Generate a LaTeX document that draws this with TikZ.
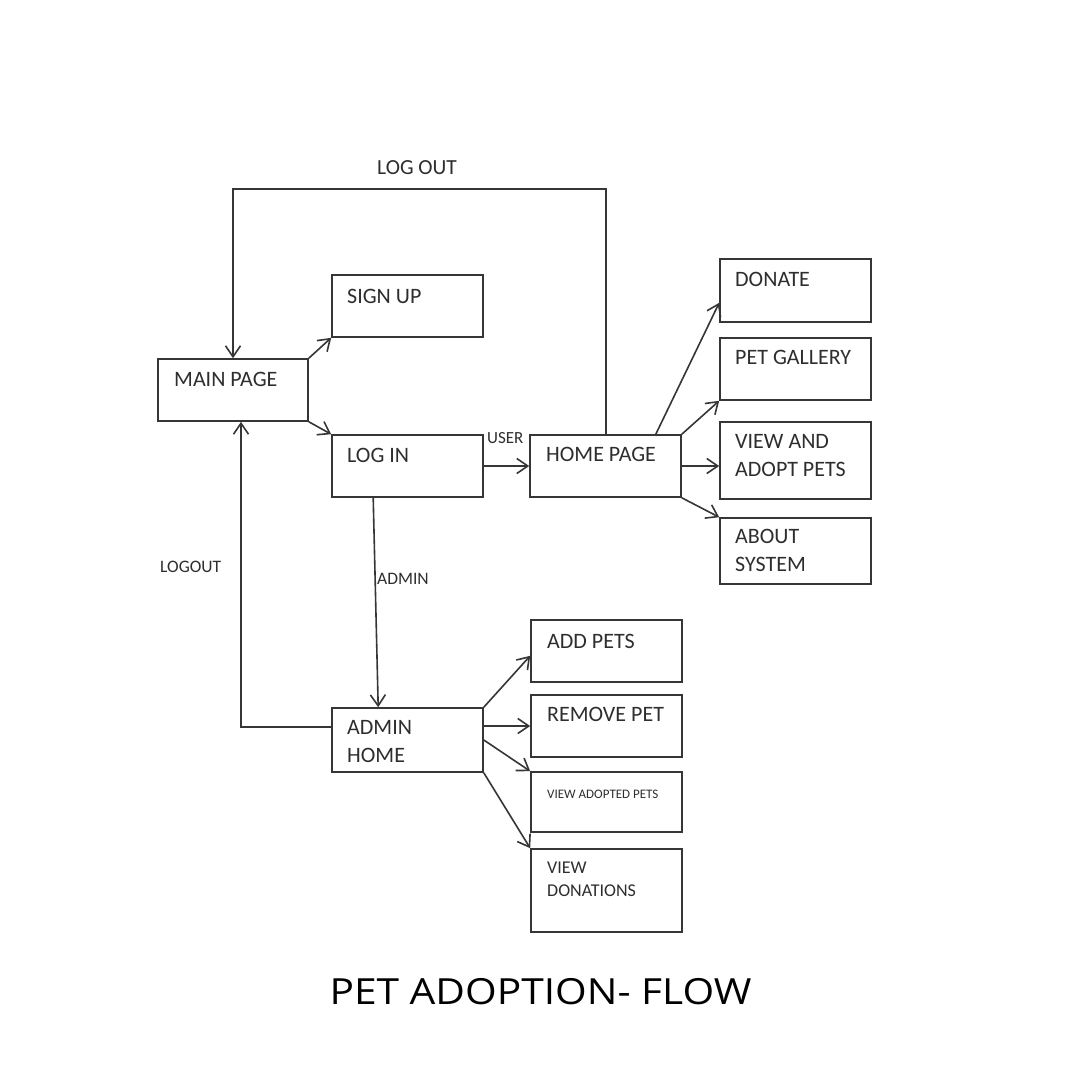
\documentclass[tikz,border=0pt]{standalone}
\usepackage{fontspec}
\setmainfont{Carlito}
\newfontfamily\titlefont{Open Sans}
\usetikzlibrary{arrows.meta,calc}
\definecolor{ink}{HTML}{363636}
\definecolor{txt}{HTML}{2E2E2E}
\begin{document}
\begin{tikzpicture}[x=1pt,y=-1pt,
  box/.style={draw=ink, line width=1.6pt, minimum width=151pt, inner sep=0pt},
  lbl/.style={anchor=west, inner sep=0pt, align=left, text=txt, font=\fontsize{22}{28}\selectfont},
  edgelbl/.style={anchor=west, inner sep=0pt, text=txt, font=\fontsize{17.5}{20}\selectfont},
  arr/.style={draw=ink, line width=1.6pt, -{Straight Barb[length=11pt,width=15pt]}},
  conn/.style={draw=ink, line width=1.6pt}
]
\useasboundingbox (0,0) rectangle (1080,1080);
\fill[white] (0,0) rectangle (1080,1080);

% boxes
\node[box, minimum width=150pt, minimum height=62pt] (main)    at (233,390) {};
\node[box, minimum height=62pt] (signup)  at (407.5,306) {};
\node[box, minimum height=62pt] (login)   at (407.5,466) {};
\node[box, minimum height=62pt] (home)    at (605.5,466) {};
\node[box, minimum height=63pt] (donate)  at (795.5,290.5) {};
\node[box, minimum height=62pt] (gallery) at (795.5,369) {};
\node[box, minimum height=77pt] (view)    at (795.5,460.5) {};
\node[box, minimum height=66pt] (about)   at (795.5,551) {};
\node[box, minimum height=64pt] (admin)   at (407.5,740) {};
\node[box, minimum height=62pt] (add)     at (606.5,651) {};
\node[box, minimum height=62pt] (remove)  at (606.5,726) {};
\node[box, minimum height=60pt] (adopted) at (606.5,802) {};
\node[box, minimum height=83pt] (dons)    at (606.5,890.5) {};

% box texts
\node[lbl] (tmain)    at (174,379) {MAIN PAGE};
\node[lbl] (tsignup)  at (347,296) {SIGN UP};
\node[lbl] (tlogin)   at (347,455) {LOG IN};
\node[lbl] (thome)    at (546,454) {HOME PAGE};
\node[lbl] (tdonate)  at (735,279) {DONATE};
\node[lbl] (tgallery) at (735,357) {PET GALLERY};
\node[lbl] (tview)    at (735,456) {VIEW AND\\ADOPT PETS};
\node[lbl] (tabout)   at (735,550) {ABOUT\\SYSTEM};
\node[lbl] (tadmin)   at (347,741.5) {ADMIN\\HOME};
\node[lbl] (tadd)     at (547,641) {ADD PETS};
\node[lbl] (tremove)  at (547,714) {REMOVE PET};
\node[lbl, font=\fontsize{13}{15}\selectfont] (tadopted) at (547,794) {VIEW ADOPTED PETS};
\node[lbl, font=\fontsize{18}{23}\selectfont] (tdons) at (547,879.5) {VIEW\\DONATIONS};

% connector labels
\node[edgelbl, font=\fontsize{21.5}{24}\selectfont] (llogout) at (377,168) {LOG OUT};
\node[edgelbl] (llogout2) at (160,567) {LOGOUT};
\node[edgelbl, font=\fontsize{17}{20}\selectfont] (luser) at (487,438) {USER};
\node[edgelbl] (ladmin) at (377,579) {ADMIN};

% connectors
\coordinate (topR) at (606,189);
\draw[arr] (topR |- home.north) -- (topR) -| (main.north);
\coordinate (lbend) at (241,727);
\draw[arr] (admin.west |- lbend) -- (lbend) -- (lbend |- main.south);
\draw[arr] (main.north east) -- (signup.south west);
\draw[arr] (main.south east) -- (login.north west);
\draw[arr] (login.east) -- (home.west);
\draw[arr] ($(login.south west)+(42,0)$) -- ($(admin.north west)+(47,0)$);
\draw[arr] ($(home.north east)+(-26,0)$) -- ($(donate.south west)+(0,-20)$);
\draw[arr] (home.north east) -- (gallery.south west);
\draw[arr] (home.east) -- (view.west |- home.east);
\draw[arr] (home.south east) -- (about.north west);
\draw[arr] (admin.north east) -- ($(add.south west)+(0,-27)$);
\draw[arr] (admin.east |- remove.west) -- (remove.west);
\draw[arr] (admin.east) -- (adopted.north west);
\draw[arr] (admin.south east) -- (dons.north west);

% title
\node[inner sep=0pt, text=black, font=\titlefont\fontsize{36}{40}\selectfont] (title) at (540.5,992) {\scalebox{1.13}[1]{PET ADOPTION- FLOW}};
\end{tikzpicture}
\end{document}
